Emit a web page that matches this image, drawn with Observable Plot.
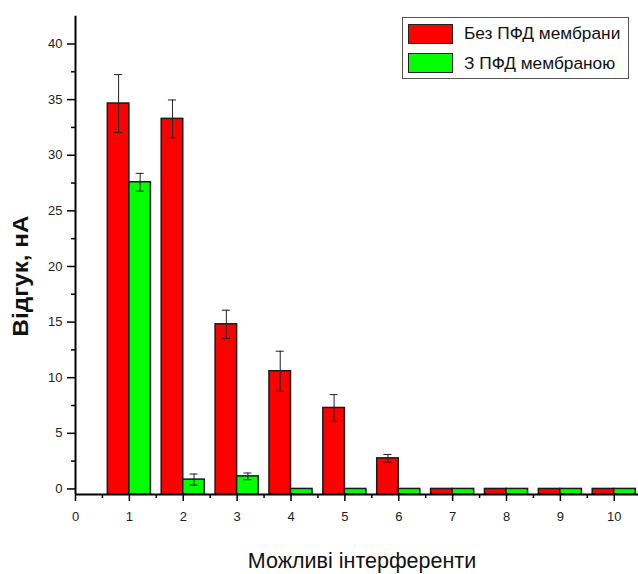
<!DOCTYPE html>
<html><head><meta charset="utf-8">
<script src="https://cdn.jsdelivr.net/npm/d3@7"></script>
<script src="https://cdn.jsdelivr.net/npm/@observablehq/plot@0.6"></script>
<style>
body{margin:0;background:#fff;font-family:Arial,"Liberation Sans",sans-serif;}
#wrap{position:relative;width:638px;height:574px;overflow:hidden;}
#wrap svg{position:absolute;left:0;top:0;}
.legend{position:absolute;left:402px;top:17px;width:227px;height:62px;border:1px solid #555;box-sizing:border-box;background:#fff;}
.item{position:absolute;left:5px;height:21px;display:flex;align-items:center;}
.sw{width:45px;height:20px;border:1.5px solid #222;box-sizing:border-box;margin-right:11px;}
.item span{font-size:17.3px;color:#111;white-space:nowrap;}
.ylab{position:absolute;left:21px;top:276px;transform:translate(-50%,-50%) rotate(-90deg) scaleX(1.1);font-size:22px;font-weight:bold;white-space:nowrap;color:#111;}
.xlab{position:absolute;left:362px;top:561px;transform:translate(-50%,-50%);font-size:21.5px;white-space:nowrap;color:#111;}
</style></head><body><div id="wrap"></div>
<script>
const interferents = [1, 2, 3, 4, 5, 6, 7, 8, 9, 10];
const seriesNames = ["Без ПФД мембрани", "З ПФД мембраною"];
const seriesColors = ["#ff0000", "#00ff00"];
const withoutMembrane = [34.65, 33.27, 14.8, 10.58, 7.28, 2.75, 0, 0, 0, 0];
const withoutMembraneErr = [2.6, 1.7, 1.27, 1.8, 1.2, 0.35, 0, 0, 0, 0];
const withMembrane = [27.57, 0.84, 1.13, 0, 0, 0, 0, 0, 0, 0];
const withMembraneErr = [0.8, 0.5, 0.3, 0, 0, 0, 0, 0, 0, 0];
const xTicks = [0, 1, 2, 3, 4, 5, 6, 7, 8, 9, 10];
const xMinorTicks = [0.5, 1.5, 2.5, 3.5, 4.5, 5.5, 6.5, 7.5, 8.5, 9.5];
const yTicks = [0, 5, 10, 15, 20, 25, 30, 35, 40];
const yMinorTicks = [2.5, 7.5, 12.5, 17.5, 22.5, 27.5, 32.5, 37.5];
const xLabel = "Можливі інтерференти";
const yLabel = "Відгук, нА";
const yMin = -0.5, yMax = 42.5, xMax = 10.45;

const barW = 0.4;
const rows = [];
interferents.forEach((k, i) => {
  rows.push({k, s: 0, value: withoutMembrane[i], err: withoutMembraneErr[i]});
  rows.push({k, s: 1, value: withMembrane[i], err: withMembraneErr[i]});
});
const x1 = d => d.s === 0 ? d.k - barW : d.k;
const x2 = d => d.s === 0 ? d.k : d.k + barW;
const xc = d => d.s === 0 ? d.k - barW / 2 : d.k + barW / 2;
const errRows = rows.filter(d => d.err > 0);
const cap = 0.075;

const chart = Plot.plot({
  width: 638, height: 574,
  marginLeft: 75, marginRight: 0, marginTop: 15.7, marginBottom: 80,
  style: {fontFamily: "Arial, 'Liberation Sans', sans-serif", fontSize: "13px", color: "#222", background: "transparent"},
  x: {domain: [0, xMax]},
  y: {domain: [yMin, yMax]},
  marks: [
    Plot.rect(rows, {x1, x2, y1: yMin, y2: "value", fill: d => seriesColors[d.s], stroke: "#1a1a1a", strokeWidth: 1.5}),
    Plot.ruleX(errRows, {x: xc, y1: d => d.value - d.err, y2: d => d.value + d.err, stroke: "#222", strokeWidth: 1}),
    Plot.ruleY(errRows, {x1: d => xc(d) - cap, x2: d => xc(d) + cap, y: d => d.value + d.err, stroke: "#222", strokeWidth: 1}),
    Plot.ruleY(errRows, {x1: d => xc(d) - cap, x2: d => xc(d) + cap, y: d => d.value - d.err, stroke: "#222", strokeWidth: 1}),
    Plot.axisX({ticks: xTicks, tickSize: 7, tickPadding: 10, tickFormat: d => String(d), stroke: "#000", strokeWidth: 1.5, label: null}),
    Plot.axisX({ticks: xMinorTicks, tickSize: 4, text: null, stroke: "#000", strokeWidth: 1.5, label: null}),
    Plot.axisY({ticks: yTicks, tickSize: 8, tickPadding: 5, tickFormat: d => String(d), stroke: "#000", strokeWidth: 1.5, label: null}),
    Plot.axisY({ticks: yMinorTicks, tickSize: 4, text: null, stroke: "#000", strokeWidth: 1.5, label: null}),
    Plot.ruleY([yMin], {stroke: "#000", strokeWidth: 2}),
    Plot.ruleX([0], {stroke: "#000", strokeWidth: 2})
  ]
});
const wrap = document.getElementById("wrap");
wrap.appendChild(chart);

const leg = document.createElement("div");
leg.className = "legend";
seriesNames.forEach((n, i) => {
  const it = document.createElement("div");
  it.className = "item";
  it.style.top = (5 + i * 29.5) + "px";
  const sw = document.createElement("div");
  sw.className = "sw";
  sw.style.background = seriesColors[i];
  const t = document.createElement("span");
  t.textContent = n;
  it.appendChild(sw); it.appendChild(t);
  leg.appendChild(it);
});
wrap.appendChild(leg);

const yl = document.createElement("div");
yl.className = "ylab"; yl.textContent = yLabel;
wrap.appendChild(yl);
const xl = document.createElement("div");
xl.className = "xlab"; xl.textContent = xLabel;
wrap.appendChild(xl);
</script>
</body></html>
